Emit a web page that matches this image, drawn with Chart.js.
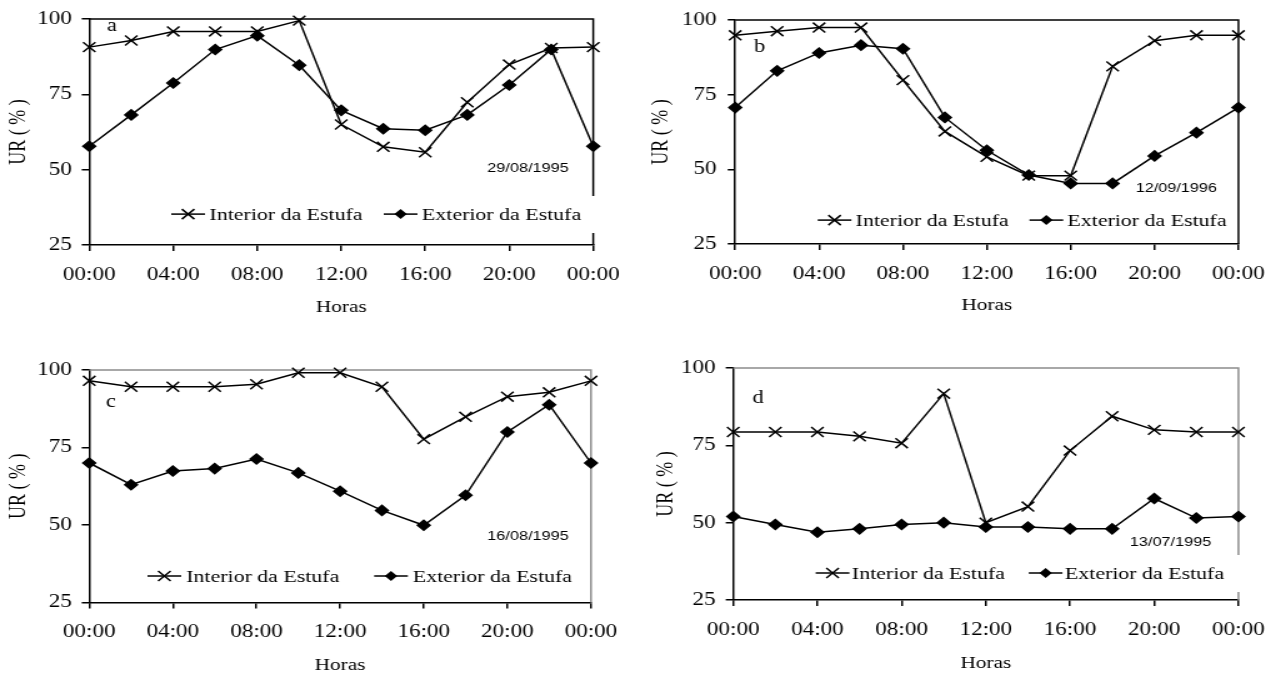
<!DOCTYPE html>
<html>
<head>
<meta charset="utf-8">
<script src="https://cdn.jsdelivr.net/npm/chart.js@4.4.1/dist/chart.umd.min.js"></script>
<style>
  html, body { margin: 0; padding: 0; background: #fff; }
  body { width: 1281px; height: 676px; position: relative; overflow: hidden; }
  canvas { position: absolute; }
</style>
</head>
<body>
<!-- a figura original está esticada na horizontal (~1,25x): o canvas é desenhado estreito e esticado pelo CSS -->
<canvas id="ga" width="512" height="330" style="left:0;top:0;width:640px;height:330px"></canvas>
<canvas id="gb" width="513" height="330" style="left:640px;top:0;width:641px;height:330px"></canvas>
<canvas id="gc" width="512" height="346" style="left:0;top:330px;width:640px;height:346px"></canvas>
<canvas id="gd" width="513" height="346" style="left:640px;top:330px;width:641px;height:346px"></canvas>
<script>
// Dados (UR %), leitura a cada 2 horas
const horas = [0, 2, 4, 6, 8, 10, 12, 14, 16, 18, 20, 22, 24];
const xTicks = [0, 4, 8, 12, 16, 20, 24];
const xLabels = ['00:00', '04:00', '08:00', '12:00', '16:00', '20:00', '00:00'];
const yTicks = [25, 50, 75, 100];
const yLabels = ['25', '50', '75', '100'];
const legendas = ['Interior da Estufa', 'Exterior da Estufa'];

const interiorA = [90.7, 92.9, 95.9, 95.9, 95.9, 99.5, 65.0, 57.6, 55.8, 72.4, 84.9, 90.4, 90.7];
const exteriorA = [57.8, 68.2, 78.8, 89.9, 94.5, 84.7, 69.7, 63.6, 63.1, 68.2, 78.1, 89.9, 57.8];

const interiorB = [94.9, 96.3, 97.5, 97.5, 79.9, 62.7, 54.2, 47.9, 47.9, 84.5, 93.1, 94.9, 94.9];
const exteriorB = [70.7, 83.0, 89.0, 91.6, 90.4, 67.4, 56.4, 48.1, 45.3, 45.3, 54.5, 62.3, 70.7];

const interiorC = [96.5, 94.6, 94.6, 94.6, 95.4, 99.1, 99.1, 94.6, 77.7, 84.9, 91.4, 92.8, 96.5];
const exteriorC = [70.0, 63.0, 67.4, 68.2, 71.3, 66.8, 60.9, 54.7, 49.9, 59.6, 80.0, 88.8, 70.0];

const interiorD = [79.3, 79.3, 79.3, 77.9, 75.7, 91.7, 50.0, 55.2, 73.3, 84.4, 80.0, 79.3, 79.3];
const exteriorD = [52.0, 49.4, 46.9, 48.0, 49.4, 50.0, 48.6, 48.6, 48.0, 48.0, 57.8, 51.5, 52.0];

const letras = ['a', 'b', 'c', 'd'];
const datas = ['29/08/1995', '12/09/1996', '16/08/1995', '13/07/1995'];

const SERIF = '"Times New Roman", "Liberation Serif", serif';
const SANS = 'Arial, "Liberation Sans", sans-serif';

// desenha o marcador da legenda
function marcador(ctx, estilo, x, y) {
  ctx.beginPath();
  if (estilo === 'crossRot') {
    const r = 5;
    ctx.moveTo(x - r, y - r); ctx.lineTo(x + r, y + r);
    ctx.moveTo(x - r, y + r); ctx.lineTo(x + r, y - r);
    ctx.stroke();
  } else {
    const r = 5;
    ctx.moveTo(x, y - r); ctx.lineTo(x + r, y); ctx.lineTo(x, y + r); ctx.lineTo(x - r, y);
    ctx.closePath();
    ctx.fill();
  }
}

// Moldura (topo e direita), letra do painel, data e legenda dentro da área
const painel = {
  id: 'painel',
  beforeDatasetsDraw(chart, args, o) {
    const { ctx, chartArea: { left, top, right, bottom } } = chart;
    ctx.save();
    ctx.strokeStyle = o.frameColor;
    ctx.lineWidth = 1.5;
    ctx.beginPath();
    ctx.moveTo(left, top);
    ctx.lineTo(right, top);
    if (o.gap) {
      ctx.lineTo(right, top + o.gap[0]);
      ctx.moveTo(right, top + o.gap[1]);
    }
    ctx.lineTo(right, bottom);
    ctx.stroke();
    ctx.restore();
  },
  afterDraw(chart, args, o) {
    const { ctx, chartArea: { left, top } } = chart;
    ctx.save();
    ctx.fillStyle = '#000';
    ctx.strokeStyle = '#000';
    ctx.textBaseline = 'middle';
    ctx.textAlign = 'center';
    ctx.font = '18px ' + SERIF;
    ctx.fillText(o.letra, left + o.letraPos[0], top + o.letraPos[1]);
    ctx.font = '13px ' + SANS;
    ctx.fillText(o.data, left + o.dataPos[0], top + o.dataPos[1]);

    // legenda
    ctx.textAlign = 'left';
    ctx.font = '17.5px ' + SERIF;
    ctx.lineWidth = 1.5;
    const y = top + o.legY;
    chart.data.datasets.forEach((ds, i) => {
      const x0 = left + o.legX + i * o.legStep;
      ctx.beginPath();
      ctx.moveTo(x0, y);
      ctx.lineTo(x0 + 27, y);
      ctx.stroke();
      marcador(ctx, ds.pointStyle, x0 + 13.5, y);
      ctx.fillText(ds.label, x0 + o.legTxt, y + 1);
    });
    ctx.restore();
  },
};

function grafico(id, idx, interior, exterior, o) {
  const serie = (vals) => horas.map((h, i) => ({ x: h, y: vals[i] }));
  const linha = {
    borderColor: '#000',
    backgroundColor: '#000',
    borderWidth: 1.5,
    pointBorderColor: '#000',
    pointBackgroundColor: '#000',
    pointBorderWidth: 1.5,
    tension: 0,
    clip: false,
  };
  const canvas = document.getElementById(id);
  const cssW = canvas.style.width, cssH = canvas.style.height;
  new Chart(canvas, {
    type: 'line',
    data: {
      datasets: [
        { ...linha, label: legendas[0], data: serie(interior), pointStyle: 'crossRot', pointRadius: 7 },
        { ...linha, label: legendas[1], data: serie(exterior), pointStyle: 'rectRot', pointRadius: 5 },
      ],
    },
    options: {
      responsive: false,
      animation: false,
      devicePixelRatio: 1,
      events: [],
      layout: { padding: { top: o.top, right: o.right, left: 0, bottom: 0 } },
      plugins: {
        legend: { display: false },
        tooltip: { enabled: false },
        painel: {
          frameColor: o.frameColor,
          gap: o.gap,
          letra: letras[idx],
          letraPos: o.letraPos,
          data: datas[idx],
          dataPos: o.dataPos,
          legX: o.legX,
          legY: o.legY,
          legStep: o.legStep,
          legTxt: o.legTxt,
        },
      },
      scales: {
        x: {
          type: 'linear',
          min: 0,
          max: 24,
          afterBuildTicks: (s) => { s.ticks = xTicks.map((v) => ({ value: v })); },
          afterFit: (s) => { s.height = o.xh; },
          border: { color: '#000', width: 1.5 },
          grid: { display: true, drawOnChartArea: false, drawTicks: true, tickLength: 6, color: '#000', lineWidth: 1.5 },
          ticks: {
            autoSkip: false,
            maxRotation: 0,
            padding: 13,
            color: '#000',
            font: { family: SERIF, size: 18.5 },
            callback: (v, i) => xLabels[i],
          },
          title: {
            display: true,
            text: 'Horas',
            color: '#000',
            font: { family: SERIF, size: 17 },
            padding: { top: 0, bottom: o.xTitlePad },
          },
        },
        y: {
          min: 25,
          max: 100,
          afterBuildTicks: (s) => { s.ticks = yTicks.map((v) => ({ value: v })); },
          afterFit: (s) => { s.width = o.left; },
          border: { color: '#000', width: 1.5 },
          grid: { display: true, drawOnChartArea: false, drawTicks: true, tickLength: 6, color: '#000', lineWidth: 1.5 },
          ticks: {
            padding: o.yPad,
            color: '#000',
            font: { family: SERIF, size: 18.5 },
            callback: (v, i) => yLabels[i],
          },
          title: {
            display: true,
            text: 'UR ( % )',
            color: '#000',
            font: { family: SERIF, size: 18 },
            padding: { top: o.yTitlePad, bottom: 0 },
          },
        },
      },
    },
    plugins: [painel],
  });
  canvas.style.width = cssW;
  canvas.style.height = cssH;
}

grafico('ga', 0, interiorA, exteriorA, {
  left: 71.4, top: 16, right: 37.4, xh: 85, xTitlePad: 12, yTitlePad: 4, yPad: 8,
  frameColor: '#000', gap: [177, 214],
  letraPos: [18, 7], dataPos: [351, 149], legX: 65.6, legY: 195, legStep: 170, legTxt: 30.6,
});
grafico('gb', 1, interiorB, exteriorB, {
  left: 76.2, top: 15, right: 33, xh: 86, xTitlePad: 14, yTitlePad: 6, yPad: 9,
  frameColor: '#000', gap: null,
  letraPos: [19.5, 27], dataPos: [353, 168], legX: 66, legY: 200, legStep: 169.5, legTxt: 30.4,
});
grafico('gc', 2, interiorC, exteriorC, {
  left: 71.4, top: 40, right: 39.2, xh: 73.5, xTitlePad: 0, yTitlePad: 4, yPad: 8,
  frameColor: '#8c8c8c', gap: null,
  letraPos: [17.4, 32], dataPos: [351, 166], legX: 46.6, legY: 206, legStep: 181.3, legTxt: 31,
});
grafico('gd', 3, interiorD, exteriorD, {
  left: 74.6, top: 38, right: 33, xh: 76, xTitlePad: 2, yTitlePad: 10, yPad: 8,
  frameColor: '#8c8c8c', gap: [187, 224],
  letraPos: [20, 30], dataPos: [350, 174], legX: 66, legY: 205, legStep: 170.5, legTxt: 29,
});
</script>
</body>
</html>
